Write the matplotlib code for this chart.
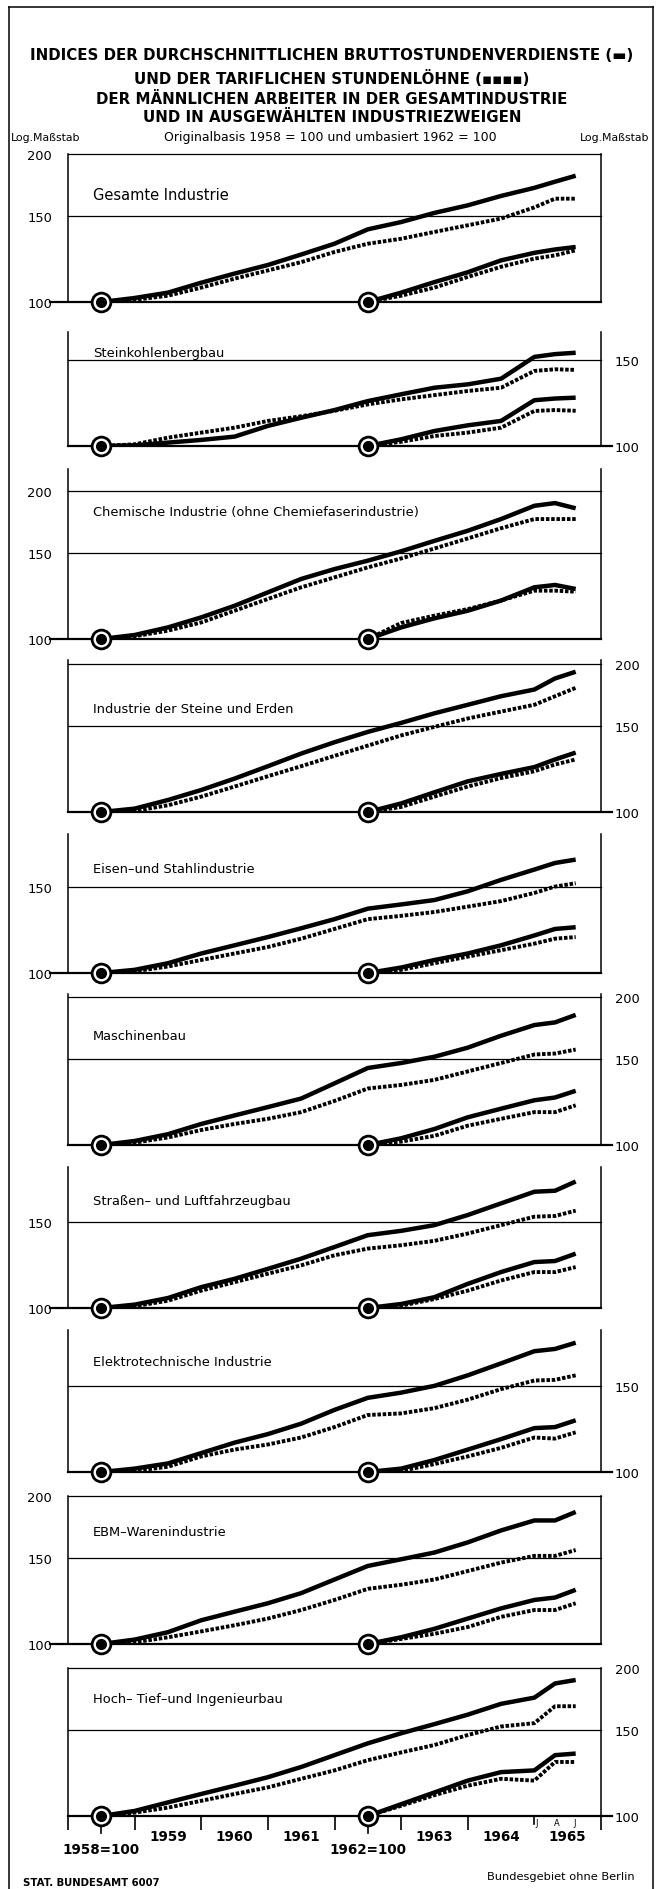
import math
import matplotlib
matplotlib.use('Agg')
import matplotlib.pyplot as plt
import matplotlib.transforms as mtrans
from matplotlib import font_manager as fm
from matplotlib.lines import Line2D
from matplotlib.ticker import NullLocator

W, H = 660, 1890

# Schriften: schmale Grotesk wenn vorhanden
names = {f.name for f in fm.fontManager.ttflist}
if 'Liberation Sans Narrow' in names:
    NARROW, fk = 'Liberation Sans Narrow', 1.0
else:
    NARROW, fk = 'DejaVu Sans', 0.78

# ---- Daten ----
x_58 = [1958.5, 1959.0, 1959.5, 1960.0, 1960.5, 1961.0, 1961.5, 1962.0,
        1962.5, 1963.0, 1963.5, 1964.0, 1964.5, 1965.0, 1965.31, 1965.62]
x_62 = [1962.5, 1963.0, 1963.5, 1964.0, 1964.5, 1965.0, 1965.31, 1965.62]

branchen = ['Gesamte Industrie',
            'Steinkohlenbergbau',
            'Chemische Industrie (ohne Chemiefaserindustrie)',
            'Industrie der Steine und Erden',
            'Eisen–und Stahlindustrie',
            'Maschinenbau',
            'Straßen– und Luftfahrzeugbau',
            'Elektrotechnische Industrie',
            'EBM–Warenindustrie',
            'Hoch– Tief–und Ingenieurbau']

# Bruttostundenverdienste, 1958 = 100
brutto_58 = [
    [100, 101.9, 104.5, 109.5, 114.3, 119, 125, 131.5, 140.7, 145.6, 152, 157.5, 164.6, 171, 176, 181],
    [100, 100.3, 101.6, 102.9, 104.5, 109.9, 114.2, 118.4, 123.5, 127.5, 131.5, 133.6, 137.2, 152, 154, 155],
    [100, 101.9, 105.6, 110.7, 116.9, 124.5, 132.6, 138.9, 144.5, 151, 158.6, 166.3, 175.7, 187, 189.4, 184.8],
    [100, 101.6, 105.8, 110.9, 117, 124, 131.6, 138.8, 145.7, 152, 159, 165.5, 172.3, 177.8, 187.3, 193.3],
    [100, 101.5, 104.7, 109.6, 113.9, 118.4, 123.4, 128.8, 135.3, 138, 140.9, 146.8, 154.9, 162.6, 167.7, 170.4],
    [100, 101.9, 105.2, 110.4, 114.9, 119.5, 124.4, 133.6, 143.6, 147, 151.4, 158, 167.1, 175.7, 177.9, 184.3],
    [100, 101.6, 104.8, 110.3, 114.7, 120.2, 126.1, 133.2, 140.8, 143.7, 147.6, 154.8, 163.5, 172.7, 173.5, 181.2],
    [100, 101.6, 104.1, 109.3, 114.8, 119.5, 125.5, 133.9, 141.7, 145.2, 149.9, 157.5, 166.6, 176.4, 178.3, 183.6],
    [100, 102.1, 105.7, 111.8, 116.4, 121.1, 127, 135.4, 144.3, 148.9, 153.7, 161.2, 170.5, 178.7, 178.7, 186],
    [100, 102.4, 106.6, 110.9, 115.3, 120, 125.9, 133.1, 140.7, 147.5, 154, 161, 169.4, 174.4, 186.4, 189.5],
]
# tarifliche Stundenloehne, 1958 = 100
tarif_58 = [
    [100, 101, 103, 107, 111.6, 116, 120.6, 126.5, 131.5, 134.6, 139, 143.4, 148, 156, 162.5, 162.5],
    [100, 100.8, 104, 106.5, 109, 112.5, 115, 118, 121.6, 124.5, 127, 129.5, 131.5, 142.3, 143.4, 143],
    [100, 101.3, 104, 108.1, 114.2, 120.7, 127.5, 133.6, 140, 146, 153, 160.4, 168.3, 175.7, 175.7, 175.7],
    [100, 100.5, 103.2, 107.5, 112.7, 118.3, 124, 130.2, 136.6, 143.3, 149.2, 155.2, 160.3, 165.5, 172.3, 179.2],
    [100, 100.8, 103.1, 106.3, 109.6, 113, 117.5, 123, 128.8, 130.8, 133.2, 136.6, 140.2, 145.7, 150.1, 152.5],
    [100, 101.1, 103.6, 107.3, 110.4, 113.1, 116.7, 123, 130.4, 132.6, 135.8, 141.3, 147, 153, 153.7, 156.6],
    [100, 100.8, 103.5, 108.5, 112.9, 117.5, 122.2, 128.1, 132.2, 134.3, 137.1, 141.9, 147.6, 153.6, 154.1, 158],
    [100, 100.5, 102.5, 107.6, 111.1, 113.8, 117.6, 123.5, 130.7, 131.7, 135, 140.5, 147.6, 153.7, 154.2, 157.5],
    [100, 100.8, 103.2, 106.1, 109.2, 112.7, 117.3, 123, 129.6, 132.1, 135.4, 140.9, 146.6, 151.3, 151.3, 155.5],
    [100, 101.6, 104, 107.4, 110.9, 114.4, 119.1, 123.9, 130, 134.8, 139.6, 146.3, 152.3, 154.7, 167.5, 167.5],
]
# umbasiert 1962 = 100
brutto_62 = [
    [100, 104.5, 109.8, 115, 121.6, 126, 128, 129.5],
    [100, 103.2, 107.3, 110.2, 112.5, 124, 125, 125.5],
    [100, 105.6, 110.2, 114.2, 119.8, 127.5, 128.9, 126.5],
    [100, 104.1, 109.7, 115.5, 119.6, 123.5, 128, 132.2],
    [100, 102.6, 106.3, 109.6, 113.9, 119.3, 123, 124],
    [100, 103.2, 107.8, 113.9, 118.6, 123.4, 125, 129],
    [100, 101.9, 105.2, 112, 118.4, 124.1, 124.7, 129.1],
    [100, 101.6, 105.8, 111.1, 116.7, 122.9, 123.5, 127.5],
    [100, 103.2, 107.4, 112.7, 118.2, 123, 124.4, 129],
    [100, 105.7, 111.7, 118.1, 122.9, 123.9, 133.1, 134.1],
]
tarif_62 = [
    [100, 103, 107, 112.5, 118, 122.6, 124.5, 127.5],
    [100, 102, 104.8, 106.5, 109, 117.9, 118.4, 118],
    [100, 107.8, 111.6, 115.1, 119.8, 125.5, 125.5, 124.9],
    [100, 102.4, 107.5, 112.7, 117.3, 121.1, 125, 128],
    [100, 101.5, 104.7, 108, 111.3, 114.8, 117.5, 118.4],
    [100, 101.6, 104.4, 109.5, 113.1, 116.7, 116.7, 120.5],
    [100, 101.1, 104.3, 108.5, 113.8, 118.4, 118.4, 121.2],
    [100, 100.5, 103.8, 107.6, 112, 117.6, 117, 120.5],
    [100, 102.4, 104.9, 108.3, 113.6, 117.3, 117.3, 121.1],
    [100, 104.9, 110.3, 115.3, 119.1, 118.1, 128.9, 128.9],
]
y_ticks = [[100, 150, 200], [100, 150], [100, 150, 200], [100, 150, 200], [100, 150],
           [100, 150, 200], [100, 150], [100, 150], [100, 150, 200], [100, 150, 200]]
y_top = [200, 171, 222, 204, 192, 203, 194, 195, 200, 200]
jahre = ['1959', '1960', '1961', '1963', '1964', '1965']
jahr_pos = [1959.5, 1960.5, 1961.5, 1963.5, 1964.5, 1965.5]
monate = ['J', 'A', 'J']
monat_pos = [1965.03, 1965.33, 1965.6]

# ---- Layout (Pixel) ----
X0, X1 = 68, 601
PX_DEC = 490
y100_px = [303, 447, 640, 813, 974, 1146, 1309, 1473, 1645, 1817]
titel_px = [195, 353, 513, 710, 870, 1037, 1202, 1363, 1533, 1700]

fig = plt.figure(figsize=(W / 100, H / 100), dpi=100)
pt = 0.72  # px -> pt

axes = []
for i in range(10):
    hpx = PX_DEC * math.log10(y_top[i] / 100)
    ax = fig.add_axes([X0 / W, 1 - y100_px[i] / H, (X1 - X0) / W, hpx / H])
    ax.set_yscale('log')
    ax.set_xlim(1958, 1966)
    ax.set_ylim(100, y_top[i])
    ax.patch.set_alpha(0)
    for s in ax.spines.values():
        s.set_visible(False)
    links = (i % 2 == 0)

    # Rahmenlinien
    ax.axvline(1958, color='black', lw=1.1, clip_on=False)
    ax.axvline(1966, color='black', lw=1.1, clip_on=False)
    for g in (150, 200):
        if g <= y_top[i]:
            ax.axhline(g, color='black', lw=0.9, clip_on=False)
    tr = mtrans.blended_transform_factory(ax.transAxes, ax.transData)
    if links:
        ax.plot([-0.034, 1], [100, 100], color='black', lw=1.6, transform=tr, clip_on=False)
    else:
        ax.plot([0, 1.02], [100, 100], color='black', lw=1.6, transform=tr, clip_on=False)

    # Kurven
    ax.plot(x_58, brutto_58[i], color='black', lw=3.2, solid_joinstyle='round',
            solid_capstyle='butt', zorder=3)
    ax.plot(x_58, tarif_58[i], color='black', lw=2.8, ls=(0, (0.9, 0.45)),
            dash_capstyle='butt', zorder=3)
    ax.plot(x_62, brutto_62[i], color='black', lw=3.2, solid_joinstyle='round',
            solid_capstyle='butt', zorder=3)
    ax.plot(x_62, tarif_62[i], color='black', lw=2.8, ls=(0, (0.9, 0.45)),
            dash_capstyle='butt', zorder=3)
    ax.plot([1958.5, 1962.5], [100, 100], 'o', ms=13.5, mfc='white', mec='black',
            mew=2.0, zorder=5, clip_on=False)
    ax.plot([1958.5, 1962.5], [100, 100], 'o', ms=7, color='black', zorder=6, clip_on=False)

    # y-Achse
    ax.yaxis.set_minor_locator(NullLocator())
    ax.set_yticks(y_ticks[i])
    ax.set_yticklabels([str(t) for t in y_ticks[i]], fontfamily=NARROW, fontsize=12 * fk)
    if links:
        ax.yaxis.tick_left()
        ax.tick_params(axis='y', length=0, pad=16 * pt)
    else:
        ax.yaxis.tick_right()
        ax.tick_params(axis='y', length=0, pad=14 * pt)

    ax.set_xticks([])
    ax.xaxis.set_minor_locator(NullLocator())

    fig.text(93 / W, 1 - titel_px[i] / H, branchen[i], fontfamily=NARROW,
             fontsize=(13.5 if i == 0 else 12) * fk, va='center', ha='left')
    axes.append(ax)

# untere Zeitachse
ax = axes[-1]
ax.set_xticks([1958, 1959, 1960, 1961, 1962, 1963, 1964, 1966])
ax.set_xticklabels([])
ax.tick_params(axis='x', which='major', direction='out', length=14 * pt, width=1.2)
ax.set_xticks(jahr_pos, minor=True)
ax.set_xticklabels(jahre, minor=True, fontfamily=NARROW, fontweight='bold', fontsize=12.5 * fk)
ax.tick_params(axis='x', which='minor', length=0, pad=13 * pt)
trx = mtrans.blended_transform_factory(ax.transData, ax.transAxes)
hpx10 = PX_DEC * math.log10(y_top[-1] / 100)
for xb, lab in [(1958.5, '1958=100'), (1962.5, '1962=100')]:
    ax.plot([xb, xb], [0, -17 / hpx10], color='black', lw=1.2, transform=trx, clip_on=False)
    ax.annotate(lab, xy=(xb, 100), xytext=(0, -26 * pt), textcoords='offset points',
                ha='center', va='top', fontfamily=NARROW, fontweight='bold', fontsize=12.5 * fk)
ax.plot([1965, 1965], [0, -8 / hpx10], color='black', lw=1.2, transform=trx, clip_on=False)
for xm, m in zip(monat_pos, monate):
    ax.annotate(m, xy=(xm, 100), xytext=(0, -2 * pt), textcoords='offset points',
                ha='center', va='top', fontfamily='DejaVu Sans', fontsize=6)

# Titel
titel = ['INDICES DER DURCHSCHNITTLICHEN BRUTTOSTUNDENVERDIENSTE (▬)',
         'UND DER TARIFLICHEN STUNDENLÖHNE (▪▪▪▪)',
         'DER MÄNNLICHEN ARBEITER IN DER GESAMTINDUSTRIE',
         'UND IN AUSGEWÄHLTEN INDUSTRIEZWEIGEN']
for t, yp in zip(titel, [55, 78, 99, 118]):
    fig.text(0.503, 1 - yp / H, t, ha='center', va='center', fontfamily='DejaVu Sans',
             fontweight='bold', fontsize=10.8)
fig.text(330 / W, 1 - 137 / H, 'Originalbasis 1958 = 100 und umbasiert 1962 = 100',
         ha='center', va='center', fontfamily=NARROW, fontsize=11.5 * fk)
fig.text(46 / W, 1 - 138 / H, 'Log.Maßstab', ha='center', va='center',
         fontfamily=NARROW, fontsize=10 * fk)
fig.text(615 / W, 1 - 138 / H, 'Log.Maßstab', ha='center', va='center',
         fontfamily=NARROW, fontsize=10 * fk)
fig.text(23 / W, 1 - 1883 / H, 'STAT. BUNDESAMT 6007', ha='left', va='center',
         fontfamily='DejaVu Sans', fontweight='bold', fontsize=7.3)
fig.text(635 / W, 1 - 1877 / H, 'Bundesgebiet ohne Berlin', ha='right', va='center',
         fontfamily=NARROW, fontsize=10.5 * fk)

# Rahmen
for xs, ys in [([9, 9], [8, H]), ([653, 653], [8, H]), ([9, 653], [8, 8])]:
    fig.add_artist(Line2D([x / W for x in xs], [1 - y / H for y in ys],
                          transform=fig.transFigure, color='black', lw=1.1))

fig.savefig('out.png', dpi=100)
